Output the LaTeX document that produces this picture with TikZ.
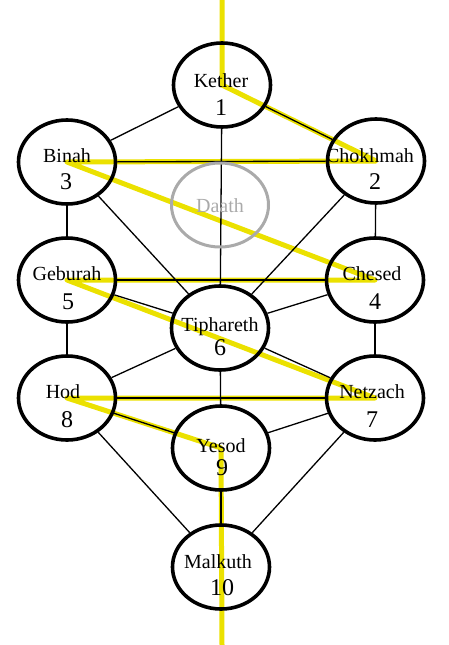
\documentclass[tikz,border=0pt]{standalone}
\usepackage{fontspec}
\setmainfont{Liberation Serif}
\usetikzlibrary{shapes.geometric}
\pgfdeclarelayer{yel}
\pgfdeclarelayer{blk}
\pgfsetlayers{yel,blk,main}
\definecolor{sephyellow}{RGB}{235,225,0}
\definecolor{daathgray}{RGB}{170,170,170}
\tikzset{
  seph/.style={ellipse,draw=black,line width=3.6pt,minimum width=97pt,minimum height=84pt,inner sep=0pt},
  daathseph/.style={seph,draw=daathgray,line width=3pt},
  sname/.style={anchor=base,inner sep=0pt,font=\fontsize{20}{20}\selectfont},
  snum/.style={anchor=base,inner sep=0pt,font=\fontsize{24}{24}\selectfont},
  path/.style={line width=1.3pt,black},
  lightning/.style={line width=5pt,sephyellow,line join=round}
}
\begin{document}
\begin{tikzpicture}[x=1pt,y=-1pt]
\useasboundingbox (0,0) rectangle (448,645);
\node[seph] (k) at (222,85) {};
\node[seph] (b) at (67,162) {};
\node[seph] (c) at (376,161) {};
\node[daathseph] (d) at (220,205) {};
\node[seph] (g) at (67,280) {};
\node[seph] (ch) at (375,280) {};
\node[seph] (t) at (220,328) {};
\node[seph] (ho) at (67,398) {};
\node[seph] (n) at (375,398) {};
\node[seph] (y) at (221,448) {};
\node[seph] (m) at (221,567) {};
\coordinate (ytop) at (222,0);
\coordinate (ybot) at (222,645);
% texts
\node[sname] (kt) at (221,87) {Kether};
\node[snum] (kn) at (221,115) {1};
\node[sname] (bt) at (67,162) {Binah};
\node[snum] (bn) at (66,189) {3};
\node[sname] (ct) at (370,162) {Chokhmah};
\node[snum] (cn) at (375,189) {2};
\node[sname,text=daathgray] (dt) at (220,212) {Daath};
\node[sname] (gt) at (67,280) {Geburah};
\node[snum] (gn) at (68,309) {5};
\node[sname] (cht) at (372,280) {Chesed};
\node[snum] (chn) at (375,309) {4};
\node[sname] (tt) at (220,331) {Tiphareth};
\node[snum] (tn) at (220,355) {6};
\node[sname] (hot) at (63,398) {Hod};
\node[snum] (hon) at (67,427) {8};
\node[sname] (nt) at (372,398) {Netzach};
\node[snum] (nn) at (372,427) {7};
\node[sname] (yt) at (221,452) {Yesod};
\node[snum] (yn) at (222,475) {9};
\node[sname] (mt) at (218,568) {Malkuth};
\node[snum] (mn) at (222,595) {10};
\begin{pgfonlayer}{yel}
\draw[lightning] (ytop) -- (k.center) -- (c.center) -- (b.center) -- (ch.center) -- (g.center) -- (n.center) -- (ho.center) -- (y.center) -- (ybot);
\end{pgfonlayer}
\begin{pgfonlayer}{blk}
\draw[path] (k) -- (b);
\draw[path] (k) -- (c);
\draw[path] (k) -- (t);
\draw[path] (b) -- (c);
\draw[path] (b) -- (g);
\draw[path] (b) -- (t);
\draw[path] (c) -- (ch);
\draw[path] (c) -- (t);
\draw[path] (g) -- (ch);
\draw[path] (g) -- (t);
\draw[path] (ch) -- (t);
\draw[path] (g) -- (ho);
\draw[path] (ch) -- (n);
\draw[path] (t) -- (ho);
\draw[path] (t) -- (n);
\draw[path] (t) -- (y);
\draw[path] (ho) -- (n);
\draw[path] (ho) -- (y);
\draw[path] (n) -- (y);
\draw[path] (ho) -- (m);
\draw[path] (n) -- (m);
\draw[path] (y) -- (m);
\end{pgfonlayer}
\end{tikzpicture}
\end{document}
